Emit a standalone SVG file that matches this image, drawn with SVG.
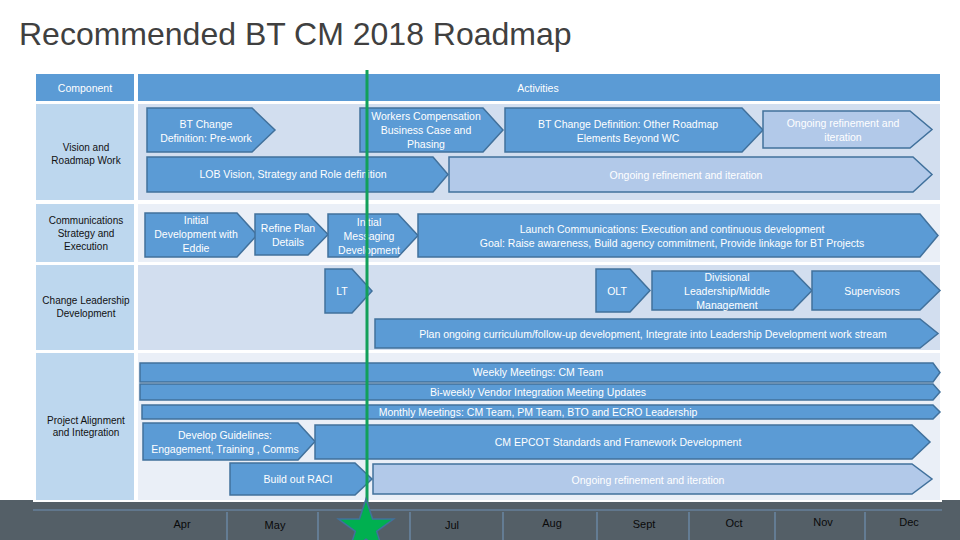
<svg xmlns="http://www.w3.org/2000/svg" width="960" height="540" viewBox="0 0 960 540">
<style>
text{font-family:"Liberation Sans",Arial,sans-serif;}
.title{font-size:32px;fill:#404040;}
.hdr{font-size:10.5px;fill:#ffffff;text-anchor:middle;}
.lbl{font-size:10px;fill:#111111;text-anchor:middle;}
.st{font-size:10.5px;fill:#ffffff;text-anchor:middle;}
.dk{fill:#5B9BD5;stroke:#41719C;stroke-width:1.5;}
.lt{fill:#B2C9E9;stroke:#41719C;stroke-width:1.5;}
.mon{font-size:11px;fill:#0A0A0A;text-anchor:middle;}
.div{stroke:#6F90B3;stroke-width:1.2;}
</style>
<rect x="0" y="0" width="960" height="540" fill="#ffffff"/>
<text class="title" x="19" y="45">Recommended BT CM 2018 Roadmap</text>

<!-- timeline bar -->
<g id="timeline">
<rect x="0" y="500" width="960" height="40" fill="#545F67"/>
<rect x="33" y="70" width="909" height="432" fill="#ffffff"/>
<line class="div" x1="33" y1="510" x2="942" y2="510"/>
<line class="div" x1="227" y1="512" x2="227" y2="540"/>
<line class="div" x1="318" y1="512" x2="318" y2="540"/>
<line class="div" x1="410" y1="512" x2="410" y2="540"/>
<line class="div" x1="503" y1="512" x2="503" y2="540"/>
<line class="div" x1="597" y1="512" x2="597" y2="540"/>
<line class="div" x1="689" y1="512" x2="689" y2="540"/>
<line class="div" x1="775" y1="512" x2="775" y2="540"/>
<line class="div" x1="865" y1="512" x2="865" y2="540"/>
<text class="mon" x="182" y="528">Apr</text>
<text class="mon" x="275" y="529">May</text>
<text class="mon" x="452" y="529">Jul</text>
<text class="mon" x="552" y="527">Aug</text>
<text class="mon" x="644" y="528">Sept</text>
<text class="mon" x="734" y="527">Oct</text>
<text class="mon" x="823" y="526">Nov</text>
<text class="mon" x="909" y="526">Dec</text>
</g>

<!-- table -->
<g id="table">
<rect x="36" y="74" width="98" height="27" fill="#5B9BD5"/>
<rect x="138" y="74" width="802" height="27" fill="#5B9BD5"/>
<text class="hdr" x="85" y="92">Component</text>
<text class="hdr" x="538" y="92">Activities</text>
<rect x="36" y="104" width="98" height="96" fill="#BDD7EE"/>
<rect x="138" y="104" width="802" height="96" fill="#D2DEEF"/>
<rect x="36" y="204" width="98" height="58" fill="#BDD7EE"/>
<rect x="138" y="204" width="802" height="58" fill="#EAEFF7"/>
<rect x="36" y="265" width="98" height="85" fill="#BDD7EE"/>
<rect x="138" y="265" width="802" height="85" fill="#D2DEEF"/>
<rect x="36" y="353" width="98" height="147" fill="#BDD7EE"/>
<rect x="138" y="353" width="802" height="147" fill="#EAEFF7"/>
<text class="lbl" x="86" y="151">Vision and</text>
<text class="lbl" x="86" y="164">Roadmap Work</text>
<text class="lbl" x="86" y="224">Communications</text>
<text class="lbl" x="86" y="237">Strategy and</text>
<text class="lbl" x="86" y="250">Execution</text>
<text class="lbl" x="86" y="304">Change Leadership</text>
<text class="lbl" x="86" y="317">Development</text>
<text class="lbl" x="86" y="424">Project Alignment</text>
<text class="lbl" x="86" y="436">and Integration</text>
</g>

<!-- row 1 -->
<g id="n-bt-prework">
<polygon class="dk" points="147,108 252,108 275,130 252,152 147,152"/>
<text class="st" x="206" y="128">BT Change</text>
<text class="st" x="206" y="142">Definition: Pre-work</text>
</g>
<g id="n-wc-case">
<polygon class="dk" points="360,108 483,108 503,130 483,152 360,152"/>
<text class="st" x="426" y="120">Workers Compensation</text>
<text class="st" x="426" y="134">Business Case and</text>
<text class="st" x="426" y="148">Phasing</text>
</g>
<g id="n-bt-other">
<polygon class="dk" points="505,108 742,108 763,130 742,152 505,152"/>
<text class="st" x="628" y="128">BT Change Definition: Other Roadmap</text>
<text class="st" x="628" y="142">Elements Beyond WC</text>
</g>
<g id="n-ongoing-1">
<polygon class="lt" points="763,111 910,111 932,129.5 910,148 763,148"/>
<text class="st" x="843" y="127">Ongoing refinement and</text>
<text class="st" x="843" y="141">iteration</text>
</g>
<g id="n-lob">
<polygon class="dk" points="147,157 433,157 448,174.5 433,192 147,192"/>
<text class="st" x="293" y="178">LOB Vision, Strategy and  Role definition</text>
</g>
<g id="n-ongoing-2">
<polygon class="lt" points="449,157 913,157 932,174.5 913,192 449,192"/>
<text class="st" x="686" y="179">Ongoing refinement and iteration</text>
</g>

<!-- row 2 -->
<g id="n-initial-dev">
<polygon class="dk" points="145,213 237,213 257,235 237,257 145,257"/>
<text class="st" x="196" y="224">Initial</text>
<text class="st" x="196" y="238">Development with</text>
<text class="st" x="196" y="252">Eddie</text>
</g>
<g id="n-refine">
<polygon class="dk" points="255,214 308,214 328,234.5 308,255 255,255"/>
<text class="st" x="288" y="232">Refine Plan</text>
<text class="st" x="288" y="246">Details</text>
</g>
<g id="n-messaging">
<polygon class="dk" points="328,214 398,214 418,235.5 398,257 328,257"/>
<text class="st" x="369" y="226">Initial</text>
<text class="st" x="369" y="240">Messaging</text>
<text class="st" x="369" y="254">Development</text>
</g>
<g id="n-launch">
<polygon class="dk" points="418,214 920,214 938,235.5 920,257 418,257"/>
<text class="st" x="672" y="233">Launch Communications: Execution and continuous development</text>
<text class="st" x="672" y="247">Goal: Raise awareness, Build agency commitment, Provide linkage for BT Projects</text>
</g>

<!-- row 3 -->
<g id="n-lt">
<polygon class="dk" points="325,269 352,269 372,291 352,313 325,313"/>
<text class="st" x="342" y="295">LT</text>
</g>
<g id="n-olt">
<polygon class="dk" points="596,269 630,269 650,290.5 630,312 596,312"/>
<text class="st" x="617" y="295">OLT</text>
</g>
<g id="n-divisional">
<polygon class="dk" points="652,271 793,271 812,290.5 793,310 652,310"/>
<text class="st" x="727" y="281">Divisional</text>
<text class="st" x="727" y="295">Leadership/Middle</text>
<text class="st" x="727" y="309">Management</text>
</g>
<g id="n-supervisors">
<polygon class="dk" points="812,271 920,271 940,290.5 920,310 812,310"/>
<text class="st" x="872" y="295">Supervisors</text>
</g>
<g id="n-plan-curriculum">
<polygon class="dk" points="375,319 920,319 938,333.5 920,348 375,348"/>
<text class="st" x="653" y="338">Plan ongoing curriculum/follow-up development, Integrate into Leadership Development work stream</text>
</g>

<!-- row 4 -->
<g id="n-weekly">
<polygon class="dk" points="140,363 933,363 940,372.5 933,382 140,382"/>
<text class="st" x="538" y="376">Weekly Meetings: CM Team</text>
</g>
<g id="n-biweekly">
<polygon class="dk" points="140,384 933,384 940,392 933,400 140,400"/>
<text class="st" x="538" y="396">Bi-weekly Vendor Integration Meeting Updates</text>
</g>
<g id="n-monthly">
<polygon class="dk" points="142,405 933,405 940,412 933,419 142,419"/>
<text class="st" x="538" y="416">Monthly Meetings: CM Team, PM Team, BTO and ECRO Leadership</text>
</g>
<g id="n-guidelines">
<polygon class="dk" points="143,423 298,423 315,441.5 298,460 143,460"/>
<text class="st" x="225" y="439">Develop Guidelines:</text>
<text class="st" x="225" y="453">Engagement, Training , Comms</text>
</g>
<g id="n-epcot">
<polygon class="dk" points="315,425 912,425 930,442 912,459 315,459"/>
<text class="st" x="618" y="446">CM EPCOT Standards and Framework Development</text>
</g>
<g id="n-raci">
<polygon class="dk" points="230,463 355,463 372,479 355,495 230,495"/>
<text class="st" x="298" y="483">Build out RACI</text>
</g>
<g id="n-ongoing-3">
<polygon class="lt" points="373,464 912,464 932,479 912,494 373,494"/>
<text class="st" x="648" y="484">Ongoing refinement and iteration</text>
</g>

<!-- today marker -->
<g id="connectors">
<line x1="367" y1="70" x2="367" y2="504" stroke="#12A05A" stroke-width="3"/>
<polygon points="366,499 372.6,518.9 393.6,519 376.7,531.4 383.1,551.4 366,539.2 348.9,551.4 355.3,531.4 338.4,519 359.4,518.9" fill="#00B050" stroke="#41719C" stroke-width="1.5"/>
</g>
</svg>
